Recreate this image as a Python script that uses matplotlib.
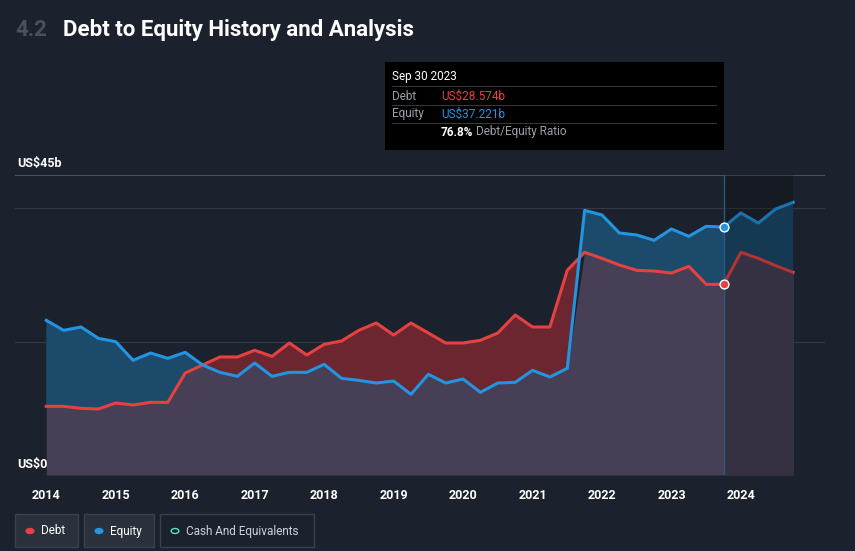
import matplotlib.pyplot as plt
import numpy as np
from matplotlib.patches import Rectangle, Circle

# data (US$ billions)
years = [2014.0, 2014.25, 2014.5, 2014.75, 2015.0, 2015.25, 2015.5, 2015.75,
         2016.0, 2016.25, 2016.5, 2016.75, 2017.0, 2017.25, 2017.5, 2017.75,
         2018.0, 2018.25, 2018.5, 2018.75, 2019.0, 2019.25, 2019.5, 2019.75,
         2020.0, 2020.25, 2020.5, 2020.75, 2021.0, 2021.25, 2021.5, 2021.75,
         2022.0, 2022.25, 2022.5, 2022.75, 2023.0, 2023.25, 2023.5, 2023.75,
         2024.0, 2024.25, 2024.5, 2024.75]
equity = [23.2, 21.7, 22.2, 20.5, 20.0, 17.2, 18.3, 17.5,
          18.4, 16.5, 15.4, 14.8, 16.8, 14.8, 15.4, 15.4,
          16.6, 14.5, 14.2, 13.8, 14.1, 12.1, 15.1, 13.8,
          14.4, 12.4, 13.8, 13.9, 15.7, 14.7, 16.0, 39.7,
          39.0, 36.3, 36.0, 35.2, 36.9, 35.8, 37.3, 37.2,
          39.3, 37.8, 39.9, 40.9]
debt = [10.3, 10.3, 10.0, 9.9, 10.8, 10.5, 10.9, 10.9,
        15.3, 16.5, 17.7, 17.7, 18.7, 17.8, 19.8, 18.0,
        19.6, 20.1, 21.7, 22.8, 21.0, 22.8, 21.3, 19.8,
        19.8, 20.2, 21.3, 24.0, 22.2, 22.2, 30.7, 33.4,
        32.5, 31.5, 30.7, 30.6, 30.3, 31.3, 28.6, 28.6,
        33.4, 32.5, 31.4, 30.4]
xticks = list(range(2014, 2025))
sel = 39  # Sep 30 2023

BG = '#1b222d'
RED = '#e64141'
BLUE = '#2394df'
plt.rcParams['font.family'] = ['Roboto', 'DejaVu Sans']

fig = plt.figure(figsize=(8.55, 5.51), dpi=100, facecolor=BG)
ax = fig.add_axes([15/855, 76/551, 810/855, 300/551], facecolor=BG)
x = np.array(years); e = np.array(equity); d = np.array(debt)
ax.set_xlim(2013.55, 2025.21)
ax.set_ylim(0, 45)

ax.fill_between(x, 0, np.minimum(d, e), color='#463f55', lw=0)
ax.fill_between(x, d, e, where=e >= d, interpolate=True, color='#1b4a6b', lw=0)
ax.fill_between(x, e, d, where=d > e, interpolate=True, color='#6b2630', lw=0)
ax.plot(x, d, color=RED, lw=2.2)
ax.plot(x, e, color=BLUE, lw=2.2)
ax.axvspan(years[sel], years[-1], color='black', alpha=0.22, lw=0, zorder=3)
ax.axvline(years[sel], color='#2a5a80', lw=1, zorder=4)
ax.scatter([years[sel]], [debt[sel]], s=40, color=RED, edgecolor='white', zorder=5)
ax.scatter([years[sel]], [equity[sel]], s=40, color=BLUE, edgecolor='white', zorder=5)

for v in [20, 40]:
    ax.axhline(v, color='#333a45', lw=0.8, zorder=0)
ax.axhline(45, color='#4a515c', lw=0.8)
ax.axhline(0, color='#4a515c', lw=0.8)
for s in ax.spines.values():
    s.set_visible(False)
ax.set_yticks([])
ax.set_xticks(xticks)
ax.set_xticklabels([str(t) for t in xticks], color='white', fontsize=9, fontweight='bold')
ax.tick_params(axis='x', length=0, pad=10)
ax.text(0.003, 46.2, 'US$45b', color='white', fontsize=9, fontweight='bold', transform=ax.get_yaxis_transform())
ax.text(0.003, 1.0, 'US$0', color='white', fontsize=9, fontweight='bold', transform=ax.get_yaxis_transform())

fig.text(15/855, 1-30/551, '4.2', color='#4a515c', fontsize=16, fontweight='bold', va='center')
fig.text(63/855, 1-30/551, 'Debt to Equity History and Analysis', color='white', fontsize=16,
         fontweight='bold', va='center')

# tooltip
fig.patches.append(Rectangle((385/855, 1-150/551), 339/855, 88/551, transform=fig.transFigure,
                             facecolor='black', edgecolor='none'))
fig.text(392/855, 1-76/551, 'Sep 30 2023', color='white', fontsize=8.5, va='center')
fig.text(392/855, 1-96/551, 'Debt', color='#9aa0a8', fontsize=8.5, va='center')
fig.text(441/855, 1-96/551, 'US$28.574b', color=RED, fontsize=8.5, va='center')
fig.text(392/855, 1-114/551, 'Equity', color='#9aa0a8', fontsize=8.5, va='center')
fig.text(441/855, 1-114/551, 'US$37.221b', color=BLUE, fontsize=8.5, va='center')
fig.text(441/855, 1-132/551, '76.8%', color='white', fontsize=8.5, fontweight='bold', va='center')
fig.text(476/855, 1-132/551, 'Debt/Equity Ratio', color='#9aa0a8', fontsize=8.5, va='center')
for yy in [86, 105, 123]:
    fig.lines.append(plt.Line2D([392/855, 716/855], [1-yy/551]*2, color='#444', lw=0.6,
                                transform=fig.transFigure))

# legend buttons
for (x0, w, lab, col, filled) in [(15, 63, 'Debt', RED, True), (84, 70, 'Equity', BLUE, True),
                                  (160, 154, 'Cash And Equivalents', '#5ee0c8', False)]:
    fig.patches.append(Rectangle((x0/855, 1-547/551), w/855, 33/551, transform=fig.transFigure,
                                 facecolor='#2a313c' if filled else BG,
                                 edgecolor='#3a414c', lw=1))
    fig.patches.append(Circle(((x0+15)/855, 1-531/551), 0.0045, transform=fig.transFigure,
                              facecolor=col if filled else BG, edgecolor=col, lw=1))
    fig.text((x0+26)/855, 1-531/551, lab, color='white' if filled else '#cfd3d8', fontsize=8.5, va='center')

fig.savefig('out.png', dpi=100, facecolor=BG)
